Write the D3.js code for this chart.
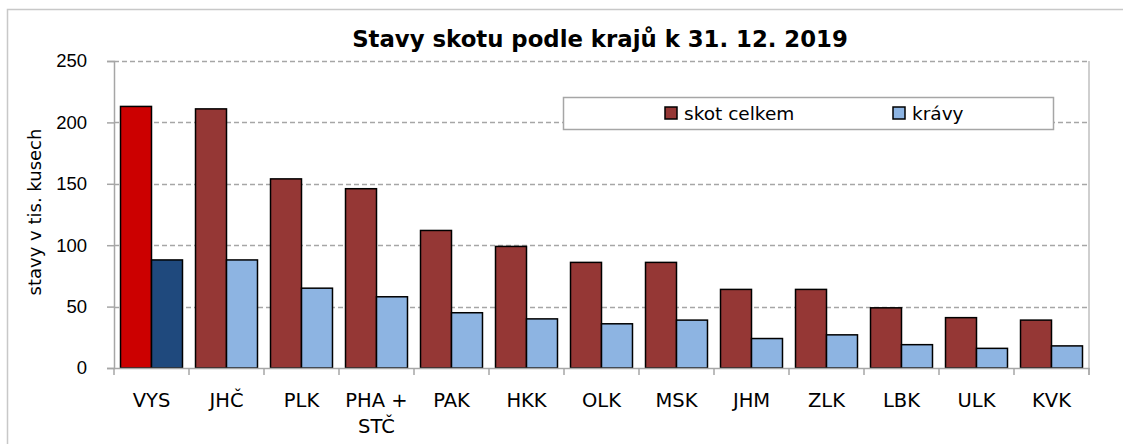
<!DOCTYPE html>
<html>
<head>
<meta charset="utf-8">
<script src="https://cdn.jsdelivr.net/npm/d3@7"></script>
<style>
  body { margin: 0; background: #fff; }
  svg { display: block; font-family: Tahoma, "DejaVu Sans", sans-serif; }
</style>
</head>
<body>
<svg id="chart" width="1123" height="444"></svg>
<script>
// kraje, VYS je zvyrazneny
const kraje = ['VYS', 'JHČ', 'PLK', 'PHA + STČ', 'PAK', 'HKK', 'OLK', 'MSK', 'JHM', 'ZLK', 'LBK', 'ULK', 'KVK']
const skotCelkem = [213, 211, 154, 146, 112, 99, 86, 86, 64, 64, 49, 41, 39]
const kravy = [88, 88, 65, 58, 45, 40, 36, 39, 24, 27, 19, 16, 18]
const serie = ['skot celkem', 'krávy']
const yTicks = [0, 50, 100, 150, 200, 250]

const colors = { 'skot celkem': '#953735', 'krávy': '#8DB4E2' }
const colorsVys = { 'skot celkem': '#CC0000', 'krávy': '#1F497D' }

const margin = { left: 114, right: 34, top: 61, bottom: 76 }
const width = 1123
const height = 444
const plotW = width - margin.left - margin.right
const plotH = height - margin.top - margin.bottom

const svg = d3.select('#chart')

// vnejsi ramecek
svg.append('path')
  .attr('d', 'M7.5,444 V9.5 H1123')
  .attr('fill', 'none')
  .attr('stroke', '#c8c8c8')
  .attr('stroke-width', 1.5)

svg.append('text')
  .attr('x', 600)
  .attr('y', 47)
  .attr('text-anchor', 'middle')
  .attr('font-size', 22.8)
  .attr('font-weight', 'bold')
  .text('Stavy skotu podle krajů k 31. 12. 2019')

const g = svg.append('g').attr('transform', `translate(${margin.left},${margin.top})`)

const x0 = d3.scaleBand().domain(kraje).range([0, plotW]).paddingInner(0).paddingOuter(0)
const x1 = d3.scaleBand().domain(serie).range([0, x0.bandwidth()]).paddingInner(0).paddingOuter(0.21)
const y = d3.scaleLinear().domain([0, 250]).range([plotH, 0])

// mrizka
g.selectAll('.grid')
  .data(yTicks.filter(d => d > 0))
  .enter()
  .append('line')
  .attr('x1', 0)
  .attr('x2', plotW)
  .attr('y1', d => Math.round(y(d)) + 0.5)
  .attr('y2', d => Math.round(y(d)) + 0.5)
  .attr('stroke', '#a6a6a6')
  .attr('stroke-width', 1.5)
  .attr('stroke-dasharray', '5,3')

// prava hrana plochy
g.append('line')
  .attr('x1', plotW).attr('x2', plotW)
  .attr('y1', 0).attr('y2', plotH + 7)
  .attr('stroke', '#bfbfbf')
  .attr('stroke-width', 1.5)

// osa y
const yAxis = g.append('g')
  .call(d3.axisLeft(y).tickValues(yTicks).tickSize(7).tickPadding(20))
yAxis.select('.domain').attr('stroke', '#a6a6a6').attr('stroke-width', 1.5)
yAxis.selectAll('.tick line').attr('stroke', '#a6a6a6').attr('stroke-width', 1.5)
yAxis.selectAll('.tick text').attr('font-size', 18.5).attr('fill', '#000').attr('font-family', null)

// sloupce
const groups = g.selectAll('.kraj')
  .data(kraje)
  .enter()
  .append('g')
  .attr('transform', d => `translate(${x0(d)},0)`)

groups.selectAll('rect')
  .data((d, i) => [
    { kraj: d, s: 'skot celkem', v: skotCelkem[i], hl: i === 0 },
    { kraj: d, s: 'krávy', v: kravy[i], hl: i === 0 }
  ])
  .enter()
  .append('rect')
  .attr('x', d => x1(d.s))
  .attr('y', d => y(d.v))
  .attr('width', x1.bandwidth())
  .attr('height', d => plotH - y(d.v))
  .attr('fill', d => d.hl ? colorsVys[d.s] : colors[d.s])
  .attr('stroke', '#000')
  .attr('stroke-width', 1.5)

// osa x
const xAxis = g.append('g')
  .attr('transform', `translate(0,${plotH})`)
  .call(d3.axisBottom(x0).tickSize(0).tickFormat(''))
xAxis.select('.domain').attr('stroke', '#a6a6a6').attr('stroke-width', 1.5)
xAxis.selectAll('.tick').remove()

g.selectAll('.xtick')
  .data(kraje.concat(['end']))
  .enter()
  .append('line')
  .attr('x1', d => d === 'end' ? plotW : x0(d))
  .attr('x2', d => d === 'end' ? plotW : x0(d))
  .attr('y1', plotH)
  .attr('y2', plotH + 7)
  .attr('stroke', '#a6a6a6')
  .attr('stroke-width', 1.5)

const xLabels = g.selectAll('.xlab')
  .data(kraje)
  .enter()
  .append('text')
  .attr('x', d => x0(d) + x0.bandwidth() / 2)
  .attr('y', plotH + 39)
  .attr('text-anchor', 'middle')
  .attr('font-size', 19.5)
xLabels.each(function (d) {
  const parts = d === 'PHA + STČ' ? ['PHA +', 'STČ'] : [d]
  parts.forEach((p, i) => {
    d3.select(this).append('tspan')
      .attr('x', x0(d) + x0.bandwidth() / 2)
      .attr('dy', i === 0 ? 0 : 26)
      .text(p)
  })
})

// popis osy y
svg.append('text')
  .attr('transform', 'translate(41,212) rotate(-90)')
  .attr('text-anchor', 'middle')
  .attr('font-size', 18)
  .text('stavy v tis. kusech')

// legenda
const leg = svg.append('g')
leg.append('rect')
  .attr('x', 563.5).attr('y', 97.5)
  .attr('width', 490).attr('height', 32)
  .attr('fill', '#fff')
  .attr('stroke', '#a6a6a6')
  .attr('stroke-width', 1.5)

const legX = [665, 893]
serie.forEach((s, i) => {
  leg.append('rect')
    .attr('x', legX[i]).attr('y', 107)
    .attr('width', 12).attr('height', 12)
    .attr('fill', colors[s])
    .attr('stroke', '#000')
    .attr('stroke-width', 1.5)
  leg.append('text')
    .attr('x', legX[i] + 19).attr('y', 120)
    .attr('font-size', 18.5)
    .text(s)
})
</script>
</body>
</html>
